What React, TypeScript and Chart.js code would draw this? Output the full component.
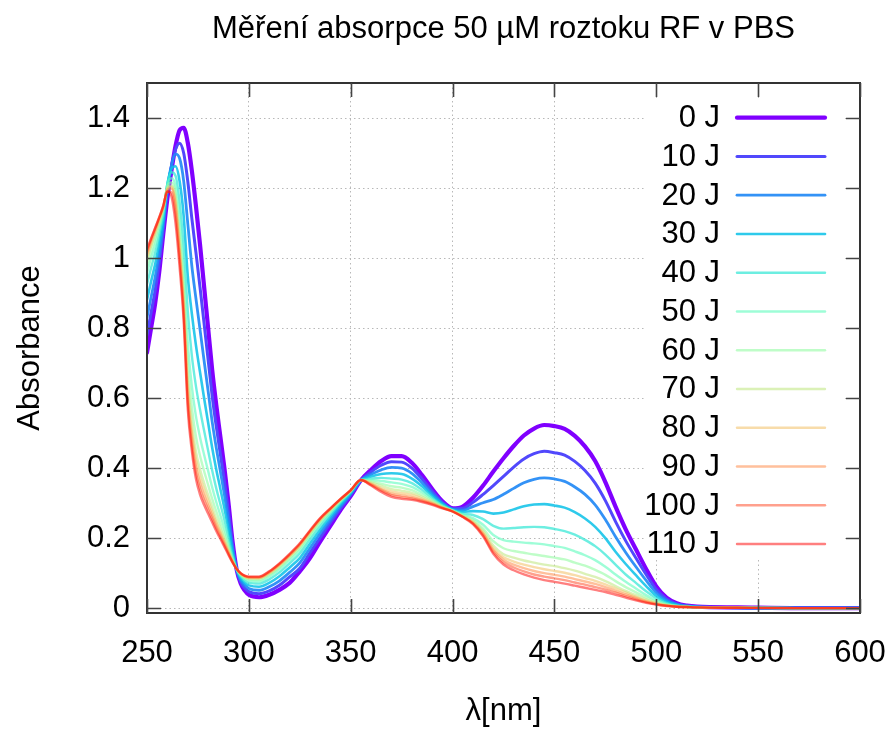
import React, { useEffect, useRef } from "react";
import { Chart, registerables } from "chart.js";

Chart.register(...registerables);

const FONT = '"Liberation Sans", Arial, sans-serif';
const TITLE = "Měření absorpce 50 µM roztoku RF v PBS";
const X_TITLE = "λ[nm]";
const Y_TITLE = "Absorbance";

const WAVELENGTHS = [
  250, 252, 254, 256, 258, 260, 262, 264, 266, 268, 270, 272, 274, 276, 278, 280, 282, 284, 286, 288, 290, 292, 294, 296, 298, 300,
  305, 310, 315, 320, 325, 330, 335, 340, 345, 350, 355, 360, 365, 370, 375, 380, 385, 390, 395, 400, 405, 410, 415, 420,
  425, 430, 435, 440, 445, 450, 455, 460, 465, 470, 475, 480, 485, 490, 495, 500, 505, 510, 515, 520,
  540, 570, 600,
];

const SERIES_LABELS = ["0 J", "10 J", "20 J", "30 J", "40 J", "50 J", "60 J", "70 J", "80 J", "90 J", "100 J", "110 J"];

const A_0J = [
  0.730, 0.800, 0.870, 0.960, 1.070, 1.170, 1.250, 1.320, 1.365, 1.372, 1.330, 1.250, 1.150, 1.040, 0.920, 0.800, 0.680, 0.580, 0.490, 0.400, 0.300, 0.190, 0.110, 0.070, 0.050, 0.038,
  0.031, 0.038, 0.052, 0.072, 0.105, 0.143, 0.190, 0.235, 0.280, 0.320, 0.365, 0.395, 0.420, 0.434, 0.434, 0.415, 0.380, 0.340, 0.305, 0.285, 0.290, 0.315, 0.350, 0.390,
  0.428, 0.463, 0.493, 0.513, 0.523, 0.520, 0.512, 0.492, 0.462, 0.420, 0.360, 0.290, 0.225, 0.168, 0.112, 0.062, 0.030, 0.014, 0.007, 0.004,
  0.002, 0, 0,
];
const A_10J = [
  0.780, 0.844, 0.907, 0.987, 1.084, 1.190, 1.262, 1.310, 1.328, 1.300, 1.220, 1.114, 1.017, 0.918, 0.814, 0.710, 0.606, 0.519, 0.440, 0.362, 0.275, 0.180, 0.110, 0.075, 0.057, 0.047,
  0.041, 0.049, 0.065, 0.089, 0.114, 0.158, 0.201, 0.244, 0.285, 0.323, 0.365, 0.389, 0.408, 0.418, 0.417, 0.400, 0.369, 0.334, 0.302, 0.284, 0.285, 0.302, 0.325, 0.350,
  0.376, 0.403, 0.426, 0.441, 0.448, 0.444, 0.437, 0.419, 0.393, 0.357, 0.307, 0.247, 0.192, 0.143, 0.096, 0.053, 0.026, 0.012, 0.006, 0.004,
  0.001, 0, 0,
];
const A_20J = [
  0.830, 0.888, 0.945, 1.014, 1.097, 1.200, 1.265, 1.297, 1.285, 1.220, 1.100, 0.978, 0.885, 0.797, 0.708, 0.620, 0.532, 0.458, 0.391, 0.324, 0.250, 0.170, 0.111, 0.080, 0.065, 0.056,
  0.051, 0.061, 0.078, 0.102, 0.129, 0.171, 0.213, 0.252, 0.291, 0.326, 0.365, 0.382, 0.395, 0.402, 0.400, 0.385, 0.358, 0.327, 0.299, 0.282, 0.280, 0.290, 0.301, 0.310,
  0.325, 0.342, 0.358, 0.368, 0.372, 0.369, 0.362, 0.346, 0.325, 0.295, 0.253, 0.204, 0.159, 0.118, 0.079, 0.044, 0.022, 0.011, 0.006, 0.003,
  0.001, 0, 0,
];
const A_30J = [
  0.880, 0.933, 0.982, 1.042, 1.111, 1.210, 1.255, 1.262, 1.220, 1.120, 0.950, 0.842, 0.752, 0.675, 0.601, 0.530, 0.458, 0.396, 0.341, 0.285, 0.225, 0.159, 0.111, 0.085, 0.072, 0.065,
  0.061, 0.072, 0.091, 0.116, 0.143, 0.184, 0.224, 0.261, 0.296, 0.329, 0.365, 0.376, 0.383, 0.385, 0.383, 0.370, 0.348, 0.321, 0.297, 0.281, 0.275, 0.277, 0.276, 0.270,
  0.273, 0.282, 0.291, 0.296, 0.297, 0.293, 0.287, 0.274, 0.256, 0.232, 0.200, 0.161, 0.126, 0.094, 0.063, 0.035, 0.018, 0.009, 0.005, 0.003,
  0.001, 0, 0,
];
const A_40J = [
  0.925, 0.972, 1.015, 1.066, 1.123, 1.212, 1.245, 1.235, 1.160, 1.030, 0.850, 0.722, 0.635, 0.568, 0.508, 0.450, 0.393, 0.342, 0.297, 0.252, 0.202, 0.150, 0.111, 0.090, 0.078, 0.072,
  0.070, 0.082, 0.102, 0.128, 0.156, 0.196, 0.234, 0.268, 0.301, 0.331, 0.366, 0.370, 0.372, 0.370, 0.367, 0.357, 0.338, 0.315, 0.294, 0.280, 0.270, 0.266, 0.254, 0.235,
  0.227, 0.229, 0.231, 0.232, 0.231, 0.226, 0.220, 0.210, 0.195, 0.177, 0.153, 0.124, 0.096, 0.072, 0.048, 0.028, 0.014, 0.007, 0.004, 0.003,
  0.001, 0, 0,
];
const A_50J = [
  0.957, 1.000, 1.039, 1.083, 1.132, 1.210, 1.228, 1.205, 1.110, 0.965, 0.760, 0.634, 0.549, 0.489, 0.439, 0.392, 0.345, 0.303, 0.265, 0.227, 0.186, 0.144, 0.111, 0.093, 0.083, 0.078,
  0.076, 0.090, 0.111, 0.137, 0.165, 0.204, 0.242, 0.274, 0.305, 0.333, 0.366, 0.366, 0.363, 0.359, 0.355, 0.346, 0.330, 0.311, 0.292, 0.279, 0.267, 0.257, 0.238, 0.209,
  0.194, 0.190, 0.187, 0.185, 0.182, 0.177, 0.172, 0.162, 0.151, 0.137, 0.118, 0.096, 0.075, 0.056, 0.037, 0.022, 0.012, 0.006, 0.004, 0.002,
  0.001, 0, 0,
];
const A_60J = [
  0.979, 1.020, 1.056, 1.095, 1.138, 1.205, 1.216, 1.185, 1.070, 0.920, 0.700, 0.574, 0.491, 0.436, 0.392, 0.352, 0.312, 0.276, 0.243, 0.210, 0.175, 0.139, 0.111, 0.095, 0.086, 0.082,
  0.081, 0.095, 0.116, 0.143, 0.172, 0.210, 0.247, 0.277, 0.307, 0.334, 0.366, 0.362, 0.355, 0.348, 0.344, 0.337, 0.323, 0.307, 0.290, 0.278, 0.265, 0.252, 0.227, 0.191,
  0.171, 0.163, 0.158, 0.153, 0.149, 0.144, 0.139, 0.130, 0.121, 0.109, 0.095, 0.077, 0.060, 0.045, 0.030, 0.018, 0.010, 0.006, 0.004, 0.002,
  0.001, 0, 0,
];
const A_70J = [
  0.996, 1.034, 1.068, 1.104, 1.142, 1.200, 1.207, 1.170, 1.045, 0.890, 0.655, 0.530, 0.448, 0.397, 0.358, 0.323, 0.289, 0.256, 0.227, 0.198, 0.167, 0.136, 0.111, 0.097, 0.089, 0.085,
  0.084, 0.098, 0.120, 0.147, 0.177, 0.214, 0.250, 0.280, 0.309, 0.335, 0.366, 0.359, 0.349, 0.340, 0.335, 0.329, 0.318, 0.304, 0.289, 0.278, 0.263, 0.248, 0.220, 0.179,
  0.154, 0.144, 0.136, 0.130, 0.124, 0.120, 0.114, 0.107, 0.098, 0.089, 0.077, 0.063, 0.049, 0.037, 0.025, 0.015, 0.008, 0.005, 0.003, 0.002,
  0.001, 0, 0,
];
const A_80J = [
  1.004, 1.042, 1.075, 1.109, 1.144, 1.198, 1.203, 1.160, 1.030, 0.870, 0.630, 0.506, 0.425, 0.375, 0.339, 0.307, 0.275, 0.245, 0.218, 0.191, 0.162, 0.134, 0.112, 0.098, 0.090, 0.086,
  0.086, 0.100, 0.123, 0.149, 0.179, 0.217, 0.252, 0.282, 0.310, 0.336, 0.366, 0.356, 0.343, 0.333, 0.328, 0.323, 0.313, 0.301, 0.288, 0.277, 0.262, 0.245, 0.215, 0.171,
  0.145, 0.133, 0.124, 0.117, 0.111, 0.106, 0.101, 0.094, 0.086, 0.078, 0.068, 0.056, 0.044, 0.032, 0.021, 0.014, 0.008, 0.005, 0.003, 0.002,
  0.001, 0, 0,
];
const A_90J = [
  1.012, 1.048, 1.080, 1.113, 1.146, 1.195, 1.198, 1.150, 1.015, 0.855, 0.610, 0.486, 0.405, 0.357, 0.323, 0.294, 0.265, 0.236, 0.211, 0.185, 0.159, 0.133, 0.112, 0.099, 0.091, 0.088,
  0.087, 0.102, 0.125, 0.151, 0.181, 0.219, 0.254, 0.283, 0.311, 0.336, 0.366, 0.354, 0.339, 0.327, 0.322, 0.317, 0.309, 0.299, 0.287, 0.276, 0.261, 0.243, 0.212, 0.166,
  0.138, 0.124, 0.114, 0.106, 0.100, 0.095, 0.090, 0.083, 0.076, 0.069, 0.060, 0.049, 0.039, 0.029, 0.019, 0.012, 0.007, 0.004, 0.003, 0.002,
  0.001, 0, 0,
];
const A_100J = [
  1.019, 1.054, 1.085, 1.116, 1.150, 1.190, 1.188, 1.125, 1.000, 0.840, 0.590, 0.468, 0.387, 0.341, 0.309, 0.282, 0.255, 0.228, 0.204, 0.180, 0.155, 0.131, 0.112, 0.099, 0.092, 0.089,
  0.089, 0.104, 0.126, 0.153, 0.183, 0.220, 0.256, 0.284, 0.311, 0.337, 0.366, 0.352, 0.336, 0.323, 0.317, 0.313, 0.306, 0.297, 0.286, 0.276, 0.261, 0.242, 0.208, 0.160,
  0.131, 0.116, 0.105, 0.096, 0.090, 0.085, 0.080, 0.073, 0.067, 0.060, 0.053, 0.044, 0.034, 0.025, 0.017, 0.011, 0.007, 0.004, 0.003, 0.002,
  0.001, 0, 0,
];
const A_110J = [
  1.025, 1.056, 1.086, 1.116, 1.150, 1.190, 1.176, 1.100, 0.975, 0.820, 0.570, 0.450, 0.370, 0.325, 0.295, 0.270, 0.245, 0.220, 0.198, 0.175, 0.152, 0.130, 0.112, 0.100, 0.093, 0.090,
  0.090, 0.105, 0.128, 0.155, 0.185, 0.222, 0.257, 0.285, 0.312, 0.337, 0.366, 0.350, 0.332, 0.318, 0.312, 0.309, 0.303, 0.295, 0.285, 0.276, 0.260, 0.240, 0.205, 0.155,
  0.124, 0.108, 0.096, 0.087, 0.080, 0.075, 0.070, 0.064, 0.058, 0.052, 0.046, 0.038, 0.030, 0.022, 0.015, 0.010, 0.006, 0.004, 0.003, 0.002,
  0.001, 0, 0,
];

const SERIES = [A_0J, A_10J, A_20J, A_30J, A_40J, A_50J, A_60J, A_70J, A_80J, A_90J, A_100J, A_110J];

const COLORS = [
  "rgba(128,0,255,1)",
  "rgba(81,72,252,1)",
  "rgba(35,138,245,0.93)",
  "rgba(12,193,232,0.86)",
  "rgba(58,232,215,0.74)",
  "rgba(104,252,193,0.64)",
  "rgba(151,252,167,0.62)",
  "rgba(197,232,138,0.62)",
  "rgba(243,193,106,0.57)",
  "rgba(255,138,72,0.54)",
  "rgba(255,72,36,0.52)",
  "rgba(255,0,0,0.5)",
];
const WIDTHS = [4.2, 3, 2.8, 2.6, 2.4, 2.4, 2.4, 2.4, 2.4, 2.4, 2.4, 2.4];

const X_TICKS = [250, 300, 350, 400, 450, 500, 550, 600];
const X_TICK_LABELS = ["250", "300", "350", "400", "450", "500", "550", "600"];
const Y_TICKS = [0, 0.2, 0.4, 0.6, 0.8, 1.0, 1.2, 1.4];
const Y_TICK_LABELS = ["0", "0.2", "0.4", "0.6", "0.8", "1", "1.2", "1.4"];
const X_MIN = 250;
const X_MAX = 600;
const Y_MIN = -0.014;
const Y_MAX = 1.5;

const framePlugin = {
  id: "gnuplotFrame",
  afterDatasetsDraw(chart: any) {
    const { ctx, chartArea } = chart;
    const { left, right, top, bottom } = chartArea;
    const xs = chart.scales.x;
    const ys = chart.scales.y;
    ctx.save();
    ctx.setLineDash([]);

    // opaque key box
    const keyLeft = right - 214;
    const keyRight = right - 15;
    const keyTop = top + 15;
    const keyBottom = bottom - 55;
    ctx.fillStyle = "#ffffff";
    ctx.fillRect(keyLeft, keyTop, keyRight - keyLeft, keyBottom - keyTop);

    // key entries
    const rowH = 38.75;
    const firstRow = top + 34.7;
    ctx.font = `31px ${FONT}`;
    ctx.textAlign = "right";
    ctx.textBaseline = "middle";
    ctx.fillStyle = "#000000";
    chart.data.datasets.forEach((ds: any, i: number) => {
      const y = firstRow + i * rowH;
      ctx.fillText(ds.label, right - 140, y + 1);
      ctx.strokeStyle = ds.borderColor;
      ctx.lineWidth = ds.borderWidth;
      ctx.lineCap = "round";
      ctx.beginPath();
      ctx.moveTo(right - 123, y);
      ctx.lineTo(right - 35, y);
      ctx.stroke();
    });

    // border frame
    ctx.lineCap = "butt";
    ctx.strokeStyle = "#333333";
    ctx.lineWidth = 2;
    ctx.strokeRect(left, top, right - left, bottom - top);

    // inward mirrored ticks
    const tl = 14;
    ctx.strokeStyle = "#444444";
    ctx.lineWidth = 1.6;
    ctx.beginPath();
    X_TICKS.forEach((v) => {
      const px = Math.round(xs.getPixelForValue(v)) + 0.5;
      ctx.moveTo(px, bottom);
      ctx.lineTo(px, bottom - tl);
      ctx.moveTo(px, top);
      ctx.lineTo(px, top + tl);
    });
    Y_TICKS.forEach((v) => {
      const py = Math.round(ys.getPixelForValue(v)) + 0.5;
      ctx.moveTo(left, py);
      ctx.lineTo(left + tl, py);
      ctx.moveTo(right, py);
      ctx.lineTo(right - tl, py);
    });
    ctx.stroke();

    // title centered over the plot area
    ctx.font = `31px ${FONT}`;
    ctx.textAlign = "center";
    ctx.textBaseline = "alphabetic";
    ctx.fillStyle = "#000000";
    ctx.fillText(TITLE, (left + right) / 2, 38);
    ctx.restore();
  },
};

export default function App() {
  const canvasRef = useRef<HTMLCanvasElement | null>(null);

  useEffect(() => {
    if (!canvasRef.current) return;
    const datasets = SERIES.map((values, k) => ({
      label: SERIES_LABELS[k],
      data: WAVELENGTHS.map((w, i) => ({ x: w, y: values[i] })),
      borderColor: COLORS[k],
      backgroundColor: COLORS[k],
      borderWidth: WIDTHS[k],
      pointRadius: 0,
      pointHoverRadius: 0,
      fill: false,
      cubicInterpolationMode: "monotone" as const,
      borderJoinStyle: "round" as const,
      borderCapStyle: "round" as const,
      order: SERIES.length - 1 - k,
    }));

    const chart = new Chart(canvasRef.current, {
      type: "line",
      data: { datasets },
      plugins: [framePlugin],
      options: {
        animation: false,
        responsive: false,
        devicePixelRatio: 1,
        layout: { padding: { left: 0, right: 36, top: 83, bottom: 0 } },
        plugins: {
          legend: { display: false },
          title: { display: false },
          tooltip: { enabled: false },
        },
        scales: {
          x: {
            type: "linear",
            min: X_MIN,
            max: X_MAX,
            afterBuildTicks: (s: any) => {
              s.ticks = X_TICKS.map((v) => ({ value: v }));
            },
            afterFit: (s: any) => {
              s.height = 118;
              s.paddingLeft = 0;
              s.paddingRight = 0;
            },
            ticks: {
              autoSkip: false,
              maxRotation: 0,
              padding: 22,
              color: "#000000",
              font: { family: FONT, size: 31 },
              callback: (_v: any, i: number) => X_TICK_LABELS[i],
            },
            grid: { color: "#b8b8b8", lineWidth: 1, drawTicks: false },
            border: { display: false, dash: [1.5, 3] },
            title: {
              display: true,
              text: X_TITLE,
              color: "#000000",
              font: { family: FONT, size: 31 },
              padding: { top: 0, bottom: 1 },
            },
          },
          y: {
            type: "linear",
            min: Y_MIN,
            max: Y_MAX,
            afterBuildTicks: (s: any) => {
              s.ticks = Y_TICKS.map((v) => ({ value: v }));
            },
            afterFit: (s: any) => {
              s.width = 147;
              s.paddingTop = 0;
              s.paddingBottom = 0;
            },
            ticks: {
              autoSkip: false,
              padding: 17,
              color: "#000000",
              font: { family: FONT, size: 31 },
              callback: (_v: any, i: number) => Y_TICK_LABELS[i],
            },
            grid: { color: "#b8b8b8", lineWidth: 1, drawTicks: false },
            border: { display: false, dash: [1.5, 3] },
            title: {
              display: true,
              text: Y_TITLE,
              color: "#000000",
              font: { family: FONT, size: 31 },
              padding: { top: 12, bottom: 0 },
            },
          },
        },
      },
    });
    return () => chart.destroy();
  }, []);

  return (
    <div style={{ position: "absolute", left: 0, top: 0, width: 896, height: 731, background: "#ffffff" }}>
      <canvas ref={canvasRef} width={896} height={731} style={{ display: "block" }} />
    </div>
  );
}
